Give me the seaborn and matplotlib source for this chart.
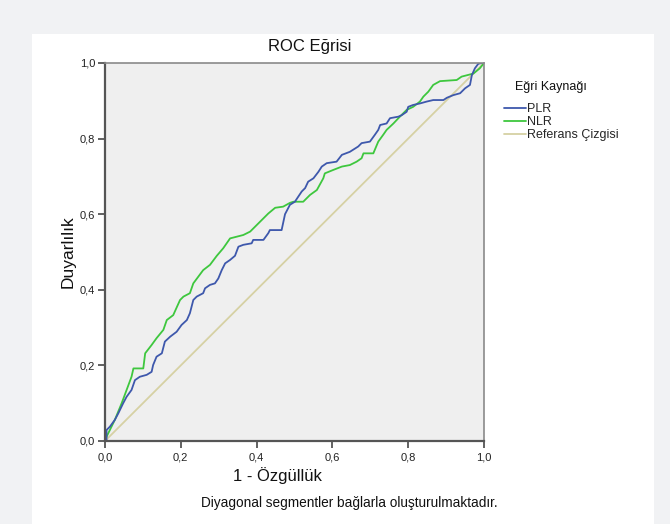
import numpy as np
import pandas as pd
import matplotlib
matplotlib.use("Agg")
import matplotlib.pyplot as plt
from matplotlib.patches import Rectangle
from matplotlib.lines import Line2D
from matplotlib.ticker import FuncFormatter
import seaborn as sns

# Veriler (görselden okunan yaklaşık değerler)
plr_fpr = [0, 0.004, 0.004, 0.013, 0.026, 0.035, 0.048, 0.057, 0.070, 0.079,
           0.092, 0.110, 0.123, 0.127, 0.136, 0.150, 0.158, 0.172, 0.189, 0.202,
           0.216, 0.224, 0.233, 0.242, 0.259, 0.264, 0.277, 0.290, 0.299, 0.308,
           0.317, 0.330, 0.343, 0.352, 0.365, 0.387, 0.391, 0.418, 0.431, 0.435,
           0.466, 0.475, 0.488, 0.501, 0.519, 0.528, 0.536, 0.550, 0.563, 0.572,
           0.585, 0.611, 0.625, 0.646, 0.668, 0.677, 0.699, 0.712, 0.721, 0.726,
           0.743, 0.752, 0.774, 0.783, 0.796, 0.800, 0.813, 0.831, 0.849, 0.866,
           0.893, 0.902, 0.919, 0.937, 0.950, 0.963, 0.968, 0.976, 0.985, 0.994, 1.0]
plr_tpr = [0, 0.003, 0.029, 0.038, 0.056, 0.073, 0.100, 0.117, 0.135, 0.161,
           0.170, 0.175, 0.183, 0.201, 0.223, 0.232, 0.263, 0.276, 0.289, 0.307,
           0.320, 0.338, 0.373, 0.382, 0.391, 0.404, 0.413, 0.417, 0.430, 0.452,
           0.470, 0.479, 0.490, 0.514, 0.519, 0.523, 0.532, 0.532, 0.550, 0.558,
           0.558, 0.600, 0.625, 0.633, 0.660, 0.669, 0.686, 0.695, 0.712, 0.726,
           0.735, 0.739, 0.757, 0.765, 0.779, 0.788, 0.792, 0.810, 0.823, 0.836,
           0.840, 0.854, 0.858, 0.862, 0.871, 0.884, 0.889, 0.893, 0.898, 0.902,
           0.902, 0.908, 0.915, 0.920, 0.933, 0.942, 0.968, 0.986, 0.998, 1.0, 1.0]

nlr_fpr = [0, 0.004, 0.026, 0.044, 0.070, 0.075, 0.101, 0.106, 0.123, 0.136,
           0.154, 0.163, 0.180, 0.198, 0.207, 0.224, 0.233, 0.259, 0.277, 0.295,
           0.312, 0.330, 0.365, 0.383, 0.400, 0.418, 0.431, 0.449, 0.470, 0.488,
           0.497, 0.523, 0.541, 0.559, 0.576, 0.580, 0.602, 0.625, 0.646, 0.664,
           0.677, 0.682, 0.708, 0.721, 0.734, 0.743, 0.761, 0.778, 0.796, 0.813,
           0.831, 0.840, 0.853, 0.866, 0.884, 0.928, 0.941, 0.972, 0.989, 1.0]
nlr_tpr = [0, 0.011, 0.056, 0.100, 0.170, 0.192, 0.192, 0.232, 0.254, 0.272,
           0.294, 0.320, 0.333, 0.373, 0.382, 0.391, 0.417, 0.452, 0.466, 0.490,
           0.510, 0.536, 0.545, 0.554, 0.571, 0.589, 0.602, 0.617, 0.620, 0.630,
           0.633, 0.633, 0.651, 0.664, 0.695, 0.708, 0.717, 0.726, 0.730, 0.739,
           0.748, 0.761, 0.761, 0.792, 0.810, 0.823, 0.840, 0.858, 0.876, 0.884,
           0.898, 0.911, 0.924, 0.942, 0.952, 0.955, 0.964, 0.972, 0.986, 1.0]

ref_x = [0, 1]
ref_y = [0, 1]

seriler = ["PLR", "NLR", "Referans Çizgisi"]
renkler = {"PLR": "#3e58ac", "NLR": "#3ec73e", "Referans Çizgisi": "#d6d1a4"}
ticks = [0, 0.2, 0.4, 0.6, 0.8, 1.0]

df = pd.concat([
    pd.DataFrame({"x": plr_fpr, "y": plr_tpr, "kaynak": "PLR"}),
    pd.DataFrame({"x": nlr_fpr, "y": nlr_tpr, "kaynak": "NLR"}),
    pd.DataFrame({"x": ref_x, "y": ref_y, "kaynak": "Referans Çizgisi"}),
])

sns.set_style("white")
plt.rcParams["font.family"] = ["Liberation Sans", "DejaVu Sans"]

fig = plt.figure(figsize=(6.7, 5.24), dpi=100)
fig.patch.set_facecolor("#f1f2f4")
fig.add_artist(Rectangle((32 / 670, 0), (654 - 32) / 670, 1 - 34 / 524,
                         transform=fig.transFigure, facecolor="white",
                         edgecolor="none", zorder=0))

ax = fig.add_axes([105 / 670, 1 - 441 / 524, 379 / 670, 378 / 524])
ax.set_facecolor("#efefef")

# referans çizgisi önce, sonra eğriler
for kaynak in ["Referans Çizgisi", "NLR", "PLR"]:
    sub = df[df["kaynak"] == kaynak]
    sns.lineplot(data=sub, x="x", y="y", sort=False, estimator=None,
                 color=renkler[kaynak], lw=1.3, ax=ax, legend=False)

ax.set_xlim(0, 1)
ax.set_ylim(0, 1)
ax.set_xticks(ticks)
ax.set_yticks(ticks)
fmt = FuncFormatter(lambda v, p: f"{v:.1f}".replace(".", ","))
ax.xaxis.set_major_formatter(fmt)
ax.yaxis.set_major_formatter(fmt)
ax.tick_params(axis="both", direction="out", length=5, width=1.3, color="#555555",
               labelsize=8, labelcolor="#222222", pad=2)
ax.tick_params(axis="x", bottom=True, pad=3)
ax.tick_params(axis="y", left=True)

for s in ["left", "bottom"]:
    ax.spines[s].set_color("#555555")
    ax.spines[s].set_linewidth(1.6)
for s in ["top", "right"]:
    ax.spines[s].set_color("#8a8a8a")
    ax.spines[s].set_linewidth(1.2)

ax.set_xlabel("")
ax.set_ylabel("Duyarlılık", fontsize=12.5, color="#111111", labelpad=3)

fig.text(310 / 670, 1 - 46 / 524, "ROC Eğrisi", ha="center", va="center",
         fontsize=12, color="#111111")
fig.text(277 / 670, 1 - 476 / 524, "1 - Özgüllük", ha="center", va="center",
         fontsize=12, color="#111111")

fig.text(515 / 670, 1 - 87 / 524, "Eğri Kaynağı", ha="left", va="center",
         fontsize=9, color="#111111")
handles = [Line2D([0], [0], color=renkler[k], lw=1.3) for k in seriler]
leg = fig.legend(handles, seriler, loc="upper left",
                 bbox_to_anchor=(498 / 670, 1 - 97 / 524), frameon=False,
                 fontsize=9, handlelength=1.7,
                 handletextpad=0.1, labelspacing=0.08, borderpad=0)

fig.text(349 / 670, 1 - 503 / 524, "Diyagonal segmentler bağlarla oluşturulmaktadır.",
         ha="center", va="center", fontsize=9.8, color="#111111")

fig.savefig("out.png", dpi=100, facecolor=fig.get_facecolor())
